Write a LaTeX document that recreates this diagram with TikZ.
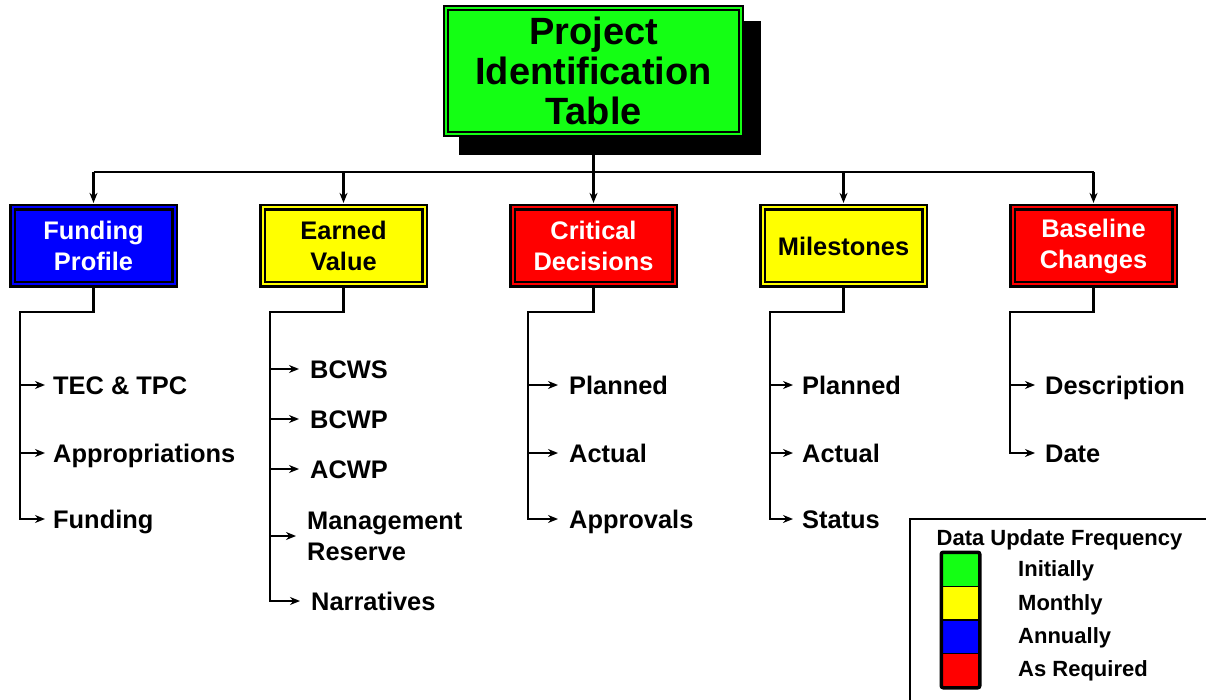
\documentclass[tikz,border=0pt]{standalone}
\usepackage{fontspec}
\setmainfont{Liberation Sans}
\usetikzlibrary{arrows.meta}

\definecolor{initgreen}{RGB}{20,255,20}
\definecolor{monthyellow}{RGB}{255,255,0}
\definecolor{annualblue}{RGB}{0,0,255}
\definecolor{asreqred}{RGB}{255,0,0}

\begin{document}
\begin{tikzpicture}[x=1pt,y=-1pt,
  wire/.style={line width=2.4pt},
  link/.style={line width=2.4pt, -{Stealth[length=10pt,width=8pt]}},
  framed/.style={draw=black, line width=2.2pt, double distance=2pt, inner sep=0pt, align=center},
  cbox/.style={framed, minimum width=162pt, minimum height=77pt,
    font=\fontsize{25.4}{31}\selectfont\bfseries},
  item/.style={anchor=base west, inner sep=0pt, align=left,
    font=\fontsize{25.4}{31}\selectfont\bfseries},
  legtext/.style={anchor=base west, inner sep=0pt, font=\fontsize{22}{26}\selectfont\bfseries},
  swatch/.style={minimum width=37pt, minimum height=33.5pt, inner sep=0pt, draw=black, line width=1.5pt},
]
\useasboundingbox (0,0) rectangle (1206,700);

% top table with drop shadow
\fill[black] (459,21) rectangle (761,155);
\node[framed, fill=initgreen, double=initgreen, minimum width=294.5pt, minimum height=125.5pt,
  font=\fontsize{38}{40}\selectfont\bfseries] (pit) at (593.5,71) {Project\\Identification\\Table};

% category boxes
\node[cbox, fill=annualblue, double=annualblue, text=white] (fp) at (93.5,246) {Funding\\Profile};
\node[cbox, fill=monthyellow, double=monthyellow] (ev) at (343.5,246) {Earned\\Value};
\node[cbox, fill=asreqred, double=asreqred, text=white] (cd) at (593.5,246) {Critical\\Decisions};
\node[cbox, fill=monthyellow, double=monthyellow] (ms) at (843.5,246) {Milestones};
\node[cbox, fill=asreqred, double=asreqred, text=white] (bc) at (1093.5,246) {Baseline\\Changes};

% distribution bus
\coordinate (hub) at (593.5,172);
\draw[wire] (pit.south) -- (hub);
\draw[wire] (hub -| fp.north) -- (hub -| bc.north);
\foreach \b in {fp,ev,cd,ms,bc}
  \draw[link, shorten >=3.5pt] (hub -| \b.north) -- (\b.north);

% Funding Profile items
\node[item] (f1) at (53,394) {TEC \& TPC};
\node[item] (f2) at (53,462) {Appropriations};
\node[item] (f3) at (53,528) {Funding};
\coordinate (fs0) at (20,312);
\coordinate (fs1) at (20,385);
\coordinate (fs2) at (20,453);
\coordinate (fs3) at (20,519);
\draw[link, shorten >=8pt] (fp.south) |- (fs0) -- (fs3) -- (fs3 -| f3.west);
\draw[link, shorten >=8pt] (fs1) -- (fs1 -| f1.west);
\draw[link, shorten >=8pt] (fs2) -- (fs2 -| f2.west);

% Earned Value items
\node[item] (e1) at (310,378) {BCWS};
\node[item] (e2) at (310,428) {BCWP};
\node[item] (e3) at (310,478) {ACWP};
\node[item, anchor=west] (e4) at (307,536) {Management\\Reserve};
\node[item] (e5) at (311,610) {Narratives};
\coordinate (es0) at (270,312);
\coordinate (es1) at (270,369);
\coordinate (es2) at (270,419);
\coordinate (es3) at (270,469);
\coordinate (es4) at (270,536);
\coordinate (es5) at (270,601);
\draw[link, shorten >=11pt] (ev.south) |- (es0) -- (es5) -- (es5 -| e5.west);
\draw[link, shorten >=11pt] (es1) -- (es1 -| e1.west);
\draw[link, shorten >=11pt] (es2) -- (es2 -| e2.west);
\draw[link, shorten >=11pt] (es3) -- (es3 -| e3.west);
\draw[link, shorten >=11pt] (es4) -- (es4 -| e4.west);

% Critical Decisions items
\node[item] (c1) at (569,394) {Planned};
\node[item] (c2) at (569,462) {Actual};
\node[item] (c3) at (569,528) {Approvals};
\coordinate (cs0) at (528,312);
\coordinate (cs1) at (528,385);
\coordinate (cs2) at (528,453);
\coordinate (cs3) at (528,519);
\draw[link, shorten >=11pt] (cd.south) |- (cs0) -- (cs3) -- (cs3 -| c3.west);
\draw[link, shorten >=11pt] (cs1) -- (cs1 -| c1.west);
\draw[link, shorten >=11pt] (cs2) -- (cs2 -| c2.west);

% Milestones items
\node[item] (m1) at (802,394) {Planned};
\node[item] (m2) at (802,462) {Actual};
\node[item] (m3) at (802,528) {Status};
\coordinate (ms0) at (770,312);
\coordinate (ms1) at (770,385);
\coordinate (ms2) at (770,453);
\coordinate (ms3) at (770,519);
\draw[link, shorten >=9pt] (ms.south) |- (ms0) -- (ms3) -- (ms3 -| m3.west);
\draw[link, shorten >=9pt] (ms1) -- (ms1 -| m1.west);
\draw[link, shorten >=9pt] (ms2) -- (ms2 -| m2.west);

% Baseline Changes items
\node[item] (b1) at (1045,394) {Description};
\node[item] (b2) at (1045,462) {Date};
\coordinate (bs0) at (1010,312);
\coordinate (bs1) at (1010,385);
\coordinate (bs2) at (1010,453);
\draw[link, shorten >=10pt] (bc.south) |- (bs0) -- (bs2) -- (bs2 -| b2.west);
\draw[link, shorten >=10pt] (bs1) -- (bs1 -| b1.west);

% legend
\draw[line width=2.4pt] (910,720) -- (910,519) -- (1220,519);
\node[anchor=base, inner sep=0pt, font=\fontsize{22}{26}\selectfont\bfseries] (lt) at (1059.5,545) {Data Update Frequency};
\node[swatch, fill=initgreen] (sw1) at (960.5,569.75) {};
\node[swatch, fill=monthyellow] (sw2) at (960.5,603.25) {};
\node[swatch, fill=annualblue] (sw3) at (960.5,636.75) {};
\node[swatch, fill=asreqred] (sw4) at (960.5,670.25) {};
\draw[line width=3.5pt, rounded corners=2pt] (sw1.north west) rectangle (sw4.south east);
\node[legtext] (l1) at (1018,576) {Initially};
\node[legtext] (l2) at (1018,610) {Monthly};
\node[legtext] (l3) at (1018,643) {Annually};
\node[legtext] (l4) at (1018,676) {As Required};
\end{tikzpicture}
\end{document}
